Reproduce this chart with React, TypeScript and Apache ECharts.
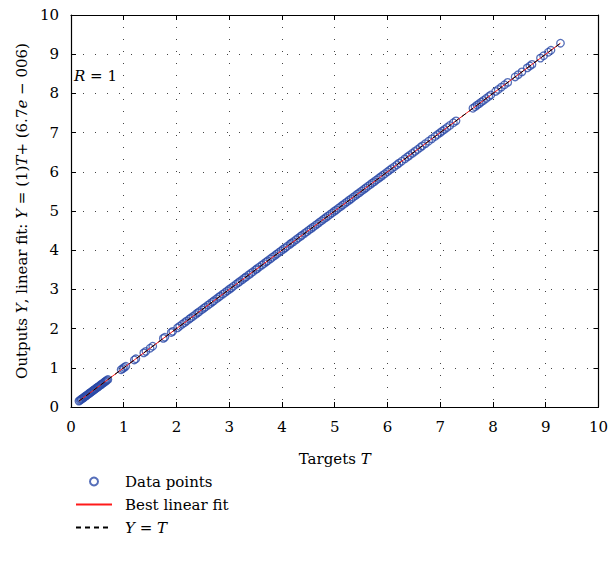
import React, { useEffect, useRef } from "react";
import * as echarts from "echarts";

const targets: number[] = [
  0.15, 0.17, 0.19, 0.2, 0.22, 0.24, 0.25, 0.27, 0.29, 0.3, 0.32, 0.34, 0.36, 0.37, 0.39, 0.41,
  0.43, 0.44, 0.46, 0.48, 0.5, 0.51, 0.53, 0.55, 0.57, 0.58, 0.6, 0.62, 0.64, 0.66, 0.68, 0.7,
  0.95, 0.98, 1.01, 1.04, 1.2, 1.23, 1.38, 1.42, 1.5, 1.55, 1.75, 1.78, 1.9, 1.93,
  2.02, 2.06, 2.11, 2.15, 2.19, 2.24, 2.27, 2.31, 2.36, 2.4, 2.43, 2.48, 2.52, 2.55, 2.6, 2.64,
  2.68, 2.71, 2.76, 2.8, 2.83, 2.88, 2.92, 2.96, 3.0, 3.04, 3.08, 3.13, 3.17, 3.2, 3.25, 3.29,
  3.32, 3.37, 3.41, 3.45, 3.5, 3.53, 3.57, 3.62, 3.66, 3.7, 3.73, 3.78, 3.82, 3.86, 3.9, 3.94,
  3.98, 4.02, 4.06, 4.1, 4.15, 4.18, 4.22, 4.27, 4.31, 4.35, 4.38, 4.43, 4.47, 4.51, 4.55, 4.59,
  4.63, 4.67, 4.71, 4.75, 4.79, 4.83, 4.87, 4.91, 4.95, 4.99, 5.03, 5.07, 5.11, 5.15, 5.19, 5.23,
  5.27, 5.31, 5.35, 5.39, 5.43, 5.47, 5.51, 5.55, 5.59, 5.63, 5.67, 5.71, 5.75, 5.79, 5.83, 5.87,
  5.91, 5.95, 6.0, 6.04, 6.08, 6.13, 6.18, 6.22, 6.27, 6.33, 6.38, 6.42, 6.47, 6.52, 6.57, 6.62,
  6.66, 6.72, 6.78, 6.84, 6.9, 6.95, 7.0, 7.04, 7.08, 7.13, 7.18, 7.25, 7.3,
  7.62, 7.66, 7.7, 7.74, 7.78, 7.82, 7.87, 7.92, 7.96, 8.05, 8.1, 8.16, 8.22, 8.28,
  8.42, 8.48, 8.55, 8.65, 8.7, 8.74, 8.9, 8.96, 9.05, 9.1, 9.28,
];
// Outputs equal targets (R = 1)
const outputs: number[] = targets.slice();

const fitLine: number[][] = [
  [0.15, 0.15],
  [9.28, 9.28],
];
const identityLine: number[][] = [
  [0.15, 0.15],
  [9.28, 9.28],
];

const FONT = "DejaVu Serif";

export default function App() {
  const ref = useRef<HTMLDivElement>(null);
  useEffect(() => {
    if (!ref.current) return;
    const chart = echarts.init(ref.current, undefined, { renderer: "svg" });
    const italic = { fontStyle: "italic", fontFamily: FONT, fontSize: 15, color: "#000" };
    const gridLine = { show: true, lineStyle: { color: "#444", type: [1, 11] as any, width: 1 } };
    const baseAxis = {
      type: "value" as const,
      min: 0,
      max: 10,
      interval: 1,
      axisLine: { show: true, onZero: false, lineStyle: { color: "#000", width: 1.2 } },
      axisTick: { show: true, inside: true, length: 5, lineStyle: { color: "#000", width: 1 } },
    };
    chart.setOption({
      animation: false,
      backgroundColor: "#fff",
      grid: { left: 71, right: 11, top: 15, bottom: 164, containLabel: false },
      xAxis: [
        {
          ...baseAxis,
          position: "bottom",
          axisLabel: { fontFamily: FONT, fontSize: 15, color: "#000", margin: 12 },
          splitLine: gridLine,
          name: "Targets {i|T}",
          nameLocation: "middle",
          nameGap: 44,
          nameTextStyle: { fontFamily: FONT, fontSize: 15, color: "#000", rich: { i: italic } },
        },
        {
          ...baseAxis,
          position: "top",
          axisLabel: { show: false },
          splitLine: { show: false },
        },
      ],
      yAxis: [
        {
          ...baseAxis,
          position: "left",
          axisLabel: { fontFamily: FONT, fontSize: 15, color: "#000", margin: 12 },
          splitLine: gridLine,
          name: "Outputs {i|Y}, linear fit: {i|Y} = (1){i|T}+ (6.7{i|e} − 006)",
          nameLocation: "middle",
          nameGap: 40,
          nameTextStyle: { fontFamily: FONT, fontSize: 15, color: "#000", rich: { i: italic } },
        },
        {
          ...baseAxis,
          position: "right",
          axisLabel: { show: false },
          splitLine: { show: false },
        },
      ],
      legend: {
        orient: "vertical",
        left: 70,
        top: 469,
        itemWidth: 36,
        itemHeight: 8,
        itemGap: 8,
        textStyle: {
          fontFamily: FONT,
          fontSize: 15,
          color: "#000",
          padding: [0, 0, 0, 8],
          rich: { i: { ...italic, padding: [0, 0, 0, 0] } },
        },
        formatter: (name: string) => (name === "Y = T" ? "{i|Y} = {i|T}" : name),
        data: [
          { name: "Data points" },
          { name: "Best linear fit", itemStyle: { opacity: 0 } },
          { name: "Y = T", itemStyle: { opacity: 0 } },
        ],
      },
      graphic: [
        {
          type: "text",
          left: 74,
          top: 68,
          style: {
            text: "{i|R} = 1",
            fontFamily: FONT,
            fontSize: 15,
            fill: "#000",
            rich: { i: { fontStyle: "italic", fontFamily: FONT, fontSize: 15 } },
          } as any,
        },
      ],
      series: [
        {
          name: "Data points",
          type: "scatter",
          data: targets.map((t, i) => [t, outputs[i]]),
          symbol: "circle",
          symbolSize: 7.5,
          itemStyle: { color: "rgba(0,0,0,0)", borderColor: "#2b4aa8", borderWidth: 1.3 },
          z: 2,
        },
        {
          name: "Best linear fit",
          type: "line",
          data: fitLine,
          symbol: "none",
          lineStyle: { color: "#ff1a1a", width: 1 },
          itemStyle: { color: "rgba(0,0,0,0)", borderColor: "rgba(0,0,0,0)" },
          z: 3,
        },
        {
          name: "Y = T",
          type: "line",
          data: identityLine,
          symbol: "none",
          lineStyle: { color: "#000", width: 1, type: [5, 4] },
          itemStyle: { color: "rgba(0,0,0,0)", borderColor: "rgba(0,0,0,0)" },
          z: 4,
        },
      ],
    });
    return () => chart.dispose();
  }, []);
  return <div ref={ref} style={{ width: 611, height: 571, position: "absolute", left: 0, top: 0 }} />;
}
